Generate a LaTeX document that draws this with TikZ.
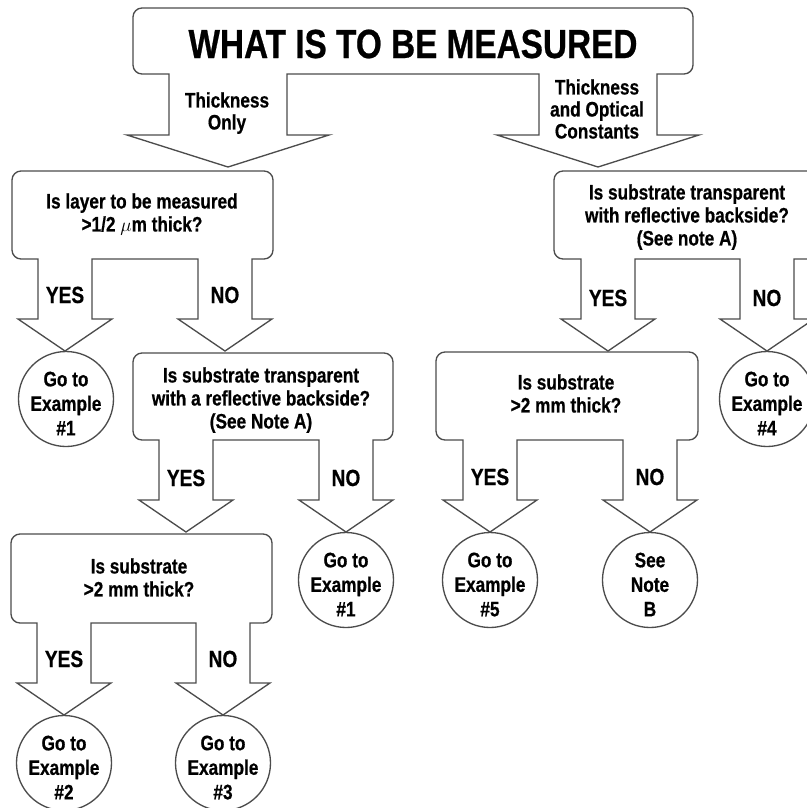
\documentclass[tikz,border=0pt]{standalone}
\usepackage{fontspec}
\setmainfont{Liberation Sans}[FakeStretch=0.82, BoldFeatures={FakeBold=0.6}]

% box with two block-arrow tails: left, top, right, bottom, left tail x, right tail x,
% shaft half width, head half width, shaft length (pixel values, y counted downwards)
\newcommand{\qbox}[9]{%
  \draw[boxline] ({#5-#7},-#4) -- ({#1+9},-#4) arc[start angle=270,end angle=180,radius=9]
    -- (#1,{-#2-9}) arc[start angle=180,end angle=90,radius=9]
    -- ({#3-9},-#2) arc[start angle=90,end angle=0,radius=9]
    -- (#3,{-#4+9}) arc[start angle=0,end angle=-90,radius=9]
    -- ({#6+#7},-#4) -- ({#6+#7},{-#4-#9}) -- ({#6+#8},{-#4-#9})
    -- (#6,{-#4-#9-32}) -- ({#6-#8},{-#4-#9}) -- ({#6-#7},{-#4-#9})
    -- ({#6-#7},-#4) -- ({#5+#7},-#4) -- ({#5+#7},{-#4-#9}) -- ({#5+#8},{-#4-#9})
    -- (#5,{-#4-#9-32}) -- ({#5-#8},{-#4-#9}) -- ({#5-#7},{-#4-#9}) -- cycle;}

\begin{document}
\begin{tikzpicture}[x=0.75pt, y=0.75pt,
        boxline/.style={draw=black!70, line width=1pt, line join=miter},
        title/.style={font=\fontsize{30.5}{36}\selectfont\bfseries, anchor=base, inner sep=0pt},
        qtext/.style={font=\fontsize{15.75}{17.25}\selectfont\bfseries, align=center, anchor=north, inner sep=0pt},
        ctext/.style={font=\fontsize{15.75}{16.5}\selectfont\bfseries, align=center, anchor=north, inner sep=0pt},
        answer/.style={font=\fontsize{17.5}{20}\selectfont\bfseries, anchor=base, inner sep=0pt},
        result/.style={circle, draw=black!70, line width=1pt, minimum size=71.25pt, inner sep=0pt},
        rtext/.style={font=\fontsize{15.75}{18.4}\selectfont\bfseries, align=center, inner sep=0pt, yshift=-3.4pt},
      ]
      \useasboundingbox (0,0) rectangle (807,-808);
      \clip (0,0) rectangle (807,-808);

      %Boxes
      \qbox{133}{8}{693}{74}{228}{598}{59}{101}{61}
      \qbox{12}{171}{273}{259}{65}{225}{27}{47}{60}
      \qbox{554}{171}{820}{259}{608}{767}{27}{47}{60}
      \qbox{133}{353}{393}{440}{186}{346}{27}{47}{60}
      \qbox{11}{534}{272}{623}{64}{223}{27}{47}{60}
      \qbox{436}{352}{698}{440}{490}{650}{27}{47}{60}

      %Texts
      \node[title]  (title)  at (413,-58)  {WHAT IS TO BE MEASURED};
      \node[ctext]  (thonly) at (227,-92)  {Thickness\\Only};
      \node[ctext]  (thopt)  at (597,-79)  {Thickness\\and Optical\\Constants};

      \node[qtext]  (q1)     at (142,-193) {Is layer to be measured\\>1/2 $\mu$m thick?};
      \node[qtext]  (q2)     at (687,-184) {Is substrate transparent\\with reflective backside?\\(See note A)};
      \node[qtext]  (q3)     at (261,-367) {Is substrate transparent\\with a reflective backside?\\(See Note A)};
      \node[qtext]  (q4)     at (139,-558) {Is substrate\\>2 mm thick?};
      \node[qtext]  (q5)     at (566,-374) {Is substrate\\>2 mm thick?};

      \node[answer] (yes1)   at (65,-303)  {YES};
      \node[answer] (no1)    at (225,-303) {NO};
      \node[answer] (yes2)   at (608,-306) {YES};
      \node[answer] (no2)    at (767,-306) {NO};
      \node[answer] (yes3)   at (186,-486) {YES};
      \node[answer] (no3)    at (346,-486) {NO};
      \node[answer] (yes4)   at (64,-667)  {YES};
      \node[answer] (no4)    at (223,-667) {NO};
      \node[answer] (yes5)   at (490,-485) {YES};
      \node[answer] (no5)    at (650,-485) {NO};

      %Results
      \node[result] (ex1a)   at (66,-399)  {};
      \node[result] (ex4)    at (767,-399) {};
      \node[result] (ex1b)   at (346,-580) {};
      \node[result] (ex5)    at (490,-580) {};
      \node[result] (noteb)  at (650,-580) {};
      \node[result] (ex2)    at (64,-763)  {};
      \node[result] (ex3)    at (223,-763) {};

      \node[rtext] at (ex1a)  {Go to\\Example\\\#1};
      \node[rtext] at (ex4)   {Go to\\Example\\\#4};
      \node[rtext] at (ex1b)  {Go to\\Example\\\#1};
      \node[rtext] at (ex5)   {Go to\\Example\\\#5};
      \node[rtext] at (noteb) {See\\Note\\B};
      \node[rtext] at (ex2)   {Go to\\Example\\\#2};
      \node[rtext] at (ex3)   {Go to\\Example\\\#3};
    \end{tikzpicture}
\end{document}
